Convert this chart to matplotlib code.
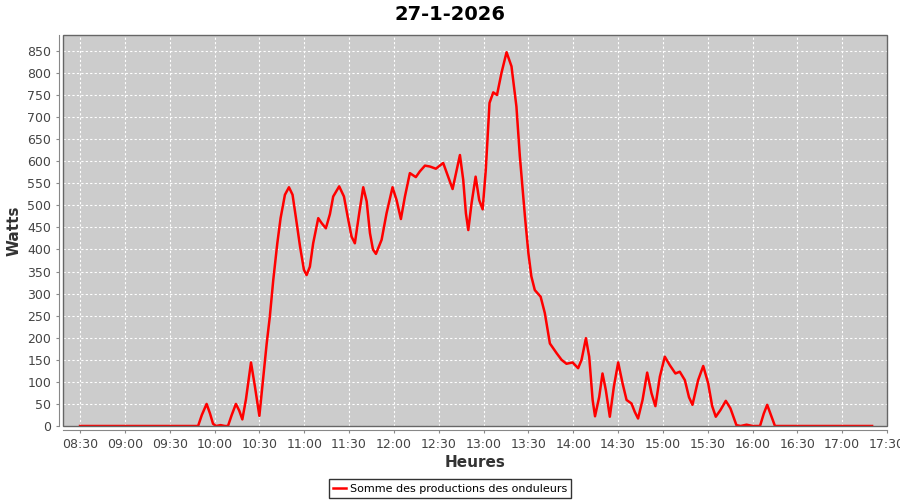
import matplotlib
matplotlib.use("Agg")
import matplotlib.pyplot as plt
from matplotlib.patches import Rectangle

TITLE = "27-1-2026"
SERIES = "Somme des productions des onduleurs"

# minutes after 08:30, watts
minutes = [0, 15, 30, 45, 60, 67, 75, 79, 81.5, 84.7, 87, 89, 91, 94, 97, 99,
           101.5, 104.3, 106.5, 108.6, 111, 114.4, 117, 120, 122, 124.9, 127,
           129.3, 132, 134.2, 137.1, 139.8, 142.2, 144.5, 147.2, 149.8, 151.6,
           153.8, 156, 159.4, 161.6, 164.5, 167.2, 169.4, 173.4, 176.6, 179.5,
           181.7, 183.9, 186.8, 189.5, 191.8, 194, 196, 198, 201.8, 205.1, 209.1,
           211.8, 214.7, 217.4, 220.7, 224.7, 227.4, 230.8, 234.1, 238.1, 243,
           246.3, 249.3, 252, 254.2, 256.4, 258.2, 259.8, 262, 264.7, 267.1,
           269.4, 271.5, 274, 276.5, 279, 282, 285.4, 288.7, 292, 294.3, 297.7,
           300, 302, 304.3, 308.2, 311, 314.4, 318.9, 322.2, 325.5, 329.6, 333.3,
           335.6, 338.5, 340.7, 343, 344.6, 347.4, 349.6, 351.8, 354.5, 357.2,
           360.1, 363, 365.7, 369, 371.2, 373.4, 376.4, 379.5, 382.4, 385, 388,
           391.3, 394.6, 398.4, 401.3, 404.7, 407.5, 409.8, 413.6, 417, 420.3,
           423, 425.4, 428.5, 432.1, 435.2, 439.2, 442, 446, 450, 455, 457.5,
           459.8, 462.7, 465, 469, 480, 500, 520, 530]
watts = [0, 0, 0, 0, 0, 0, 0, 0, 25, 50, 28, 5, 0, 2, 0, 0,
         25, 50, 35, 15, 60, 144, 90, 23, 90, 187, 248,
         331, 414, 471, 524, 541, 524, 471, 407, 354, 342,
         361, 414, 471, 460, 448, 480, 520, 543, 520, 467,
         429, 414, 482, 541, 509, 437, 400, 390, 422, 482, 541,
         512, 469, 520, 573, 564, 577, 590, 588, 583, 596,
         565, 537, 580, 614, 558, 482, 444, 505, 565, 512,
         491, 580, 732, 756, 750, 800, 847, 815, 724, 611, 475,
         392, 339, 308, 293, 256, 187, 165, 150, 141, 144, 131,
         150, 199, 157, 59, 22, 66, 119, 82, 21, 89,
         144, 97, 59, 51, 32, 17, 59, 121, 74, 45, 112,
         157, 138, 119, 123, 104, 65, 48, 104, 136, 97,
         45, 21, 36, 57, 40, 2, 0, 3, 0, 0, 28,
         48, 21, 0, 0, 0, 0, 0, 0]

xtick_labels = ["08:30", "09:00", "09:30", "10:00", "10:30", "11:00", "11:30",
                "12:00", "12:30", "13:00", "13:30", "14:00", "14:30", "15:00",
                "15:30", "16:00", "16:30", "17:00", "17:30"]
yticks = list(range(0, 851, 50))

TICK_C, AXIS_C = "#444444", "#888888"

fig = plt.figure(figsize=(9, 5), dpi=100, facecolor="white")
ax = fig.add_axes([0.070, 0.148, 0.9156, 0.782])
ax.set_facecolor("#CCCCCC")

xt = [30 * i for i in range(len(xtick_labels))]
ax.set_xticks(xt)
ax.set_xticklabels(xtick_labels)
ax.set_yticks(yticks)
ax.set_xlim(-11.4, 540)
ax.set_ylim(0, 886)

ax.grid(True, color="white", lw=0.8, linestyle=(0, (2, 2)))
ax.set_axisbelow(True)

ax.plot(minutes, watts, color="#FF0000", lw=1.8, solid_joinstyle="round",
        label=SERIES, zorder=3)

for side in ["top", "right"]:
    ax.spines[side].set_visible(False)
for side in ["left", "bottom"]:
    ax.spines[side].set_position(("outward", 3))
    ax.spines[side].set_color(AXIS_C)
ax.add_patch(Rectangle((0, 0), 1, 1, transform=ax.transAxes, fill=False,
                       edgecolor="#666666", lw=1.0, zorder=5, clip_on=False))
ax.tick_params(colors=AXIS_C, labelcolor=TICK_C, labelsize=9, length=2)

ax.set_xlabel("Heures", fontsize=11, fontweight="bold", color="#333333", labelpad=3)
ax.set_ylabel("Watts", fontsize=11, fontweight="bold", color="#333333", labelpad=4)
fig.text(0.5, 0.972, TITLE, ha="center", va="center", fontsize=14, fontweight="bold")

leg = fig.legend(loc="lower center", bbox_to_anchor=(0.5, 0.004), fontsize=8.0,
                 frameon=True, fancybox=False, handlelength=1.2, handletextpad=0.3,
                 borderpad=0.4, borderaxespad=0)
leg.get_frame().set_edgecolor("black")
leg.get_frame().set_linewidth(1.0)

fig.savefig("out.png", dpi=100, facecolor="white")
